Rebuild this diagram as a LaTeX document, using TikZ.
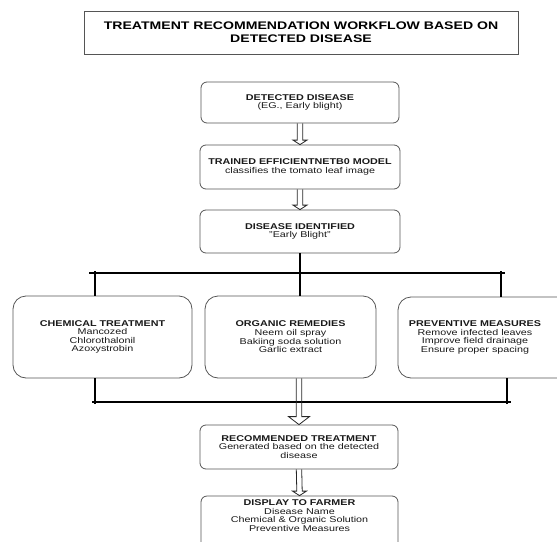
\documentclass[tikz,border=0pt]{standalone}
\usepackage{fontspec}
\setmainfont{Liberation Sans}[FakeStretch=1.28]
\usetikzlibrary{calc}
\definecolor{boxgray}{HTML}{555555}
\newcommand\bodyfont{\fontsize{8.4}{8.6}\selectfont}
\newcommand\titlefont{\fontsize{11}{12.7}\selectfont\bfseries}
\tikzset{
  box/.style={draw=boxgray, line width=0.8pt, rounded corners=6pt, align=center,
    font=\bodyfont, inner sep=0pt, text=black!90},
  bigbox/.style={box, rounded corners=13pt},
  titlebox/.style={draw=boxgray, line width=0.8pt, align=center, font=\titlefont, inner sep=0pt},
  conn/.style={line width=1.1pt, draw=black},
  hollow/.style={line width=0.8pt, draw=black!85},
}
% hollow arrow from #1 (south) to #2 (north), head half width #3, head length #4
\newcommand\harrow[4]{%
  \draw[hollow] ($(#1.south)+(-2.7,0)$) -- ($(#2.north)+(-2.7,-#4)$) -- ($(#2.north)+(-#3,-#4)$)
    -- (#2.north) -- ($(#2.north)+(#3,-#4)$) -- ($(#2.north)+(2.7,-#4)$) -- ($(#1.south)+(2.7,0)$);}
\begin{document}
\begin{tikzpicture}[x=1pt, y=-1pt]
\useasboundingbox (0,0) rectangle (557,541);

\node[titlebox, minimum width=434pt, minimum height=43pt] (title) at (301,32.5)
  {TREATMENT RECOMMENDATION WORKFLOW BASED ON\\DETECTED DISEASE};

\node[box, minimum width=198pt, minimum height=41pt] (det) at (300,102.5)
  {\textbf{DETECTED DISEASE}\\(EG., Early blight)};
\node[box, minimum width=200pt, minimum height=44pt] (trn) at (300,167)
  {\textbf{TRAINED EFFICIENTNETB0 MODEL}\\classifies the tomato leaf image};
\node[box, minimum width=200pt, minimum height=43pt] (idf) at (300,231.5)
  {\textbf{DISEASE IDENTIFIED}\\"Early Blight"};

\node[bigbox, minimum width=179pt, minimum height=82pt] (chem) at (102.5,337)
  {\textbf{CHEMICAL TREATMENT}\\Mancozed\\Chlorothalonil\\Azoxystrobin};
\node[bigbox, minimum width=171pt, minimum height=82pt] (org) at (290.5,337)
  {\textbf{ORGANIC REMEDIES}\\Neem oil spray\\Bakiing soda solution\\Garlic extract};
\node[bigbox, minimum width=178pt, minimum height=81pt] (prev) at (487,337.5) {};
\node[font=\bodyfont, align=center, inner sep=0pt, text=black!90] (prevtext) at (475,337.5)
  {\textbf{PREVENTIVE MEASURES}\\Remove infected leaves\\Improve field drainage\\Ensure proper spacing};

\node[box, minimum width=198pt, minimum height=44pt] (rec) at (299,447)
  {\textbf{RECOMMENDED TREATMENT}\\Generated based on the detected\\disease};
\node[box, minimum width=197pt, minimum height=60pt] (disp) at (299.5,526) {};
\node[font=\bodyfont, align=center, inner sep=0pt, text=black!90] (disptext) at (299.5,515.5)
  {\textbf{DISPLAY TO FARMER}\\Disease Name\\Chemical \& Organic Solution\\Preventive Measures};

% hollow arrows
\harrow{det}{trn}{7}{4.5}
\harrow{trn}{idf}{7}{4.5}
\harrow{rec}{disp}{7}{4.5}

% top distribution bus
\coordinate (tbl) at (89,273);
\coordinate (tbr) at (505,273);
\coordinate (tvl) at (95,271);
\coordinate (tvr) at (501,271);
\draw[conn] (idf.south) -- (idf.south |- org.north);
\draw[conn] (tbl) -- (tbr);
\draw[conn] (tvl) -- (tvl |- chem.north);
\draw[conn] (tvr) -- (tvr |- prev.north);

% bottom collecting bus
\coordinate (bbl) at (92,402);
\coordinate (bbr) at (511,402);
\coordinate (bvl) at (95,404);
\coordinate (bvr) at (507,404);
\draw[conn] (bbl) -- (bbr);
\draw[conn] (bvl) -- (bvl |- chem.south);
\draw[conn] (bvr) -- (bvr |- prev.south);

\coordinate (ot) at (org.south -| rec.north);
\draw[hollow] ($(ot)+(-2.7,0)$) -- ($(rec.north)+(-2.7,-8)$) -- ($(rec.north)+(-10.5,-8)$)
  -- (rec.north) -- ($(rec.north)+(10.5,-8)$) -- ($(rec.north)+(2.7,-8)$) -- ($(ot)+(2.7,0)$);
\end{tikzpicture}
\end{document}
